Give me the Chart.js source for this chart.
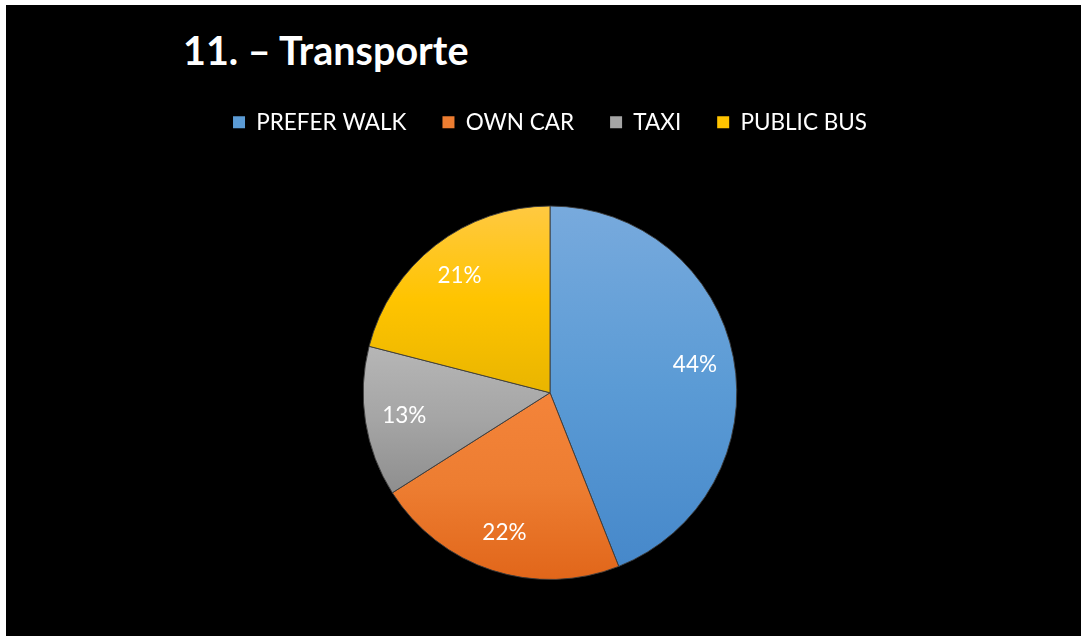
<!DOCTYPE html>
<html>
<head>
<meta charset="utf-8">
<script src="https://cdn.jsdelivr.net/npm/chart.js@4/dist/chart.umd.min.js"></script>
<style>
  html, body { margin: 0; padding: 0; background: #ffffff; }
  #frame {
    position: absolute; left: 6px; top: 5px;
    width: 1075px; height: 631px; background: #000000;
  }
  #title {
    position: absolute; left: 177px; top: 25px;
    font-family: Lato, sans-serif; font-weight: bold; font-size: 39.5px; line-height: 1;
    color: #ffffff; white-space: nowrap;
  }
  #chartWrap { position: absolute; left: 0; top: 0; width: 1075px; height: 631px; }
</style>
</head>
<body>
<div id="frame">
  <div id="title">11. – Transporte</div>
  <div id="chartWrap"><canvas id="chartTransport"></canvas></div>
</div>
<script>
"use strict";

const categories = ['PREFER WALK', 'OWN CAR', 'TAXI', 'PUBLIC BUS'];
const shares = [44, 22, 13, 21];
// top / middle / bottom colours of each slice gradient
const colorsTop = ['#78aadd', '#f4843a', '#b6b6b6', '#ffc942'];
const colorsFlat = ['#5b9bd5', '#ed7d31', '#a5a5a5', '#ffc400'];
const colorsBottom = ['#4688ca', '#e1661a', '#8e8e8e', '#e9b500'];

// vertical extent of a slice, as fractions of the radius (-1 top, 1 bottom)
function sliceExtent(i) {
    const total = shares.reduce((a, b) => a + b, 0);
    let before = 0;
    for (let k = 0; k < i; k++) before += shares[k];
    const a0 = -Math.PI / 2 + before / total * 2 * Math.PI;
    const a1 = a0 + shares[i] / total * 2 * Math.PI;
    const ys = [0, Math.sin(a0), Math.sin(a1)];
    [Math.PI / 2, -Math.PI / 2, 1.5 * Math.PI].forEach(a => {
        if (a > a0 && a < a1) ys.push(Math.sin(a));
    });
    return [Math.min(...ys), Math.max(...ys)];
}

function sliceFill(context) {
    const chart = context.chart;
    const area = chart.chartArea;
    const i = context.dataIndex;
    if (!area) return colorsFlat[i];
    const cy = (area.top + area.bottom) / 2;
    const r = Math.min(area.right - area.left, area.bottom - area.top) / 2;
    const ext = sliceExtent(i);
    const g = chart.ctx.createLinearGradient(0, cy + ext[0] * r, 0, cy + ext[1] * r);
    g.addColorStop(0, colorsTop[i]);
    g.addColorStop(0.5, colorsFlat[i]);
    g.addColorStop(1, colorsBottom[i]);
    return g;
}

// percentage labels inside the slices
const sliceLabels = {
    id: 'sliceLabels',
    afterDatasetsDraw(chart) {
        const ctx = chart.ctx;
        const meta = chart.getDatasetMeta(0);
        ctx.save();
        ctx.fillStyle = '#ffffff';
        ctx.font = '22.5px Lato, sans-serif';
        ctx.textAlign = 'center';
        ctx.textBaseline = 'middle';
        meta.data.forEach((arc, i) => {
            const p = arc.getProps(['x', 'y', 'startAngle', 'endAngle', 'outerRadius'], true);
            const mid = (p.startAngle + p.endAngle) / 2;
            const d = p.outerRadius * 0.79;
            ctx.fillText(shares[i] + '%', p.x + Math.cos(mid) * d, p.y + Math.sin(mid) * d);
        });
        ctx.restore();
    }
};

// extra room under the legend
const legendGap = {
    id: 'legendGap',
    beforeInit(chart) {
        const fit = chart.legend.fit;
        chart.legend.fit = function () {
            fit.bind(chart.legend)();
            this.height += 62;
        };
    }
};

const transport = document.getElementById('chartTransport').getContext('2d');
const chartTransport = new Chart(transport, {
    type: 'pie',
    data: {
        labels: categories,
        datasets: [{
            data: shares,
            backgroundColor: sliceFill,
            borderColor: 'rgba(60,60,60,0.9)',
            borderWidth: 1
        }]
    },
    options: {
        responsive: true,
        maintainAspectRatio: false,
        animation: false,
        layout: { padding: { top: 70, bottom: 56, left: 13, right: 0 } },
        plugins: {
            legend: {
                position: 'top',
                labels: {
                    color: '#ffffff',
                    font: { family: 'Lato, sans-serif', size: 22.5 },
                    boxWidth: 12,
                    boxHeight: 12,
                    padding: 36,
                    generateLabels(chart) {
                        return categories.map((c, i) => ({
                            text: c,
                            fillStyle: colorsFlat[i],
                            strokeStyle: colorsFlat[i],
                            lineWidth: 0,
                            fontColor: '#ffffff',
                            index: i
                        }));
                    }
                }
            },
            tooltip: { enabled: false }
        }
    },
    plugins: [sliceLabels, legendGap]
});
</script>
</body>
</html>
